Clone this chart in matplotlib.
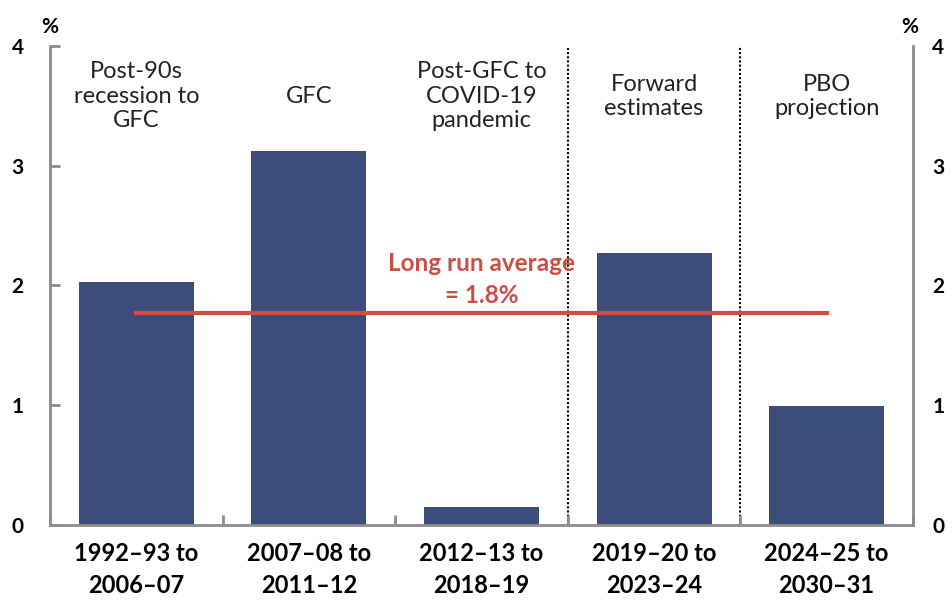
import matplotlib
matplotlib.use("Agg")
import matplotlib.pyplot as plt
import numpy as np

plt.rcParams['font.family'] = ['Lato', 'DejaVu Sans']

periods = ["1992–93 to\n2006–07", "2007–08 to\n2011–12", "2012–13 to\n2018–19",
           "2019–20 to\n2023–24", "2024–25 to\n2030–31"]
headers = ["Post-90s\nrecession to\nGFC", "GFC", "Post-GFC to\nCOVID-19\npandemic",
           "Forward\nestimates", "PBO\nprojection"]
values = [2.03, 3.12, 0.15, 2.27, 0.99]
long_run_avg = 1.77
y_ticks = [0, 1, 2, 3, 4]

bar_color = "#3D4D7B"
red = "#CB4E47"
axis_gray = "#8C8C8C"

fig = plt.figure(figsize=(9.53, 6.01), dpi=100)
ax = fig.add_axes([0.0525, 0.1265, 0.9055, 0.797])

x = np.arange(len(values))
ax.bar(x, values, width=0.667, color=bar_color, zorder=2)
ax.plot([x[0], x[-1]], [long_run_avg, long_run_avg], color=red, lw=3, zorder=3)

for xv in [2.5, 3.5]:
    ax.plot([xv, xv], [0, 4], color="black", lw=1.5, ls=(0, (1, 1)), zorder=1)

ax.set_xlim(-0.5, len(values) - 0.5)
ax.set_ylim(0, 4)

for i, h in enumerate(headers):
    ax.text(x[i], 3.58, h, ha='center', va='center', fontsize=17,
            color="#222222", linespacing=1.2)

ax.text(2.0, 2.05, "Long run average\n= 1.8%", ha='center', va='center',
        fontsize=17.5, fontweight='bold', color=red, linespacing=1.45, zorder=4)

ax.spines['top'].set_visible(False)
for s in ['left', 'right', 'bottom']:
    ax.spines[s].set_color(axis_gray)
    ax.spines[s].set_linewidth(2)

ax.set_yticks(y_ticks)
ax.set_yticklabels([str(t) for t in y_ticks])
ax.tick_params(axis='y', direction='in', length=7, width=2, color=axis_gray,
               labelsize=15, pad=19, left=True, right=True,
               labelleft=True, labelright=False)
for lab in ax.get_yticklabels():
    lab.set_fontweight('bold')

ax2 = ax.twinx()
ax2.set_ylim(0, 4)
ax2.set_yticks(y_ticks)
ax2.set_yticklabels([str(t) for t in y_ticks], fontweight='bold')
for s in ax2.spines.values():
    s.set_visible(False)
ax2.tick_params(axis='y', length=0, labelsize=15, pad=14)

ax.set_xticks(np.arange(len(values) + 1) - 0.5, minor=True)
ax.set_xticks(x)
ax.set_xticklabels(periods, fontsize=17, fontweight='bold', linespacing=1.5)
ax.tick_params(axis='x', which='major', length=0, pad=12)
ax.tick_params(axis='x', which='minor', direction='in', length=7, width=2,
               color=axis_gray)

fig.text(0.0525, 0.955, "%", ha='center', va='center', fontsize=15, fontweight='bold')
fig.text(0.955, 0.955, "%", ha='center', va='center', fontsize=15, fontweight='bold')

fig.savefig("out.png", dpi=100)
